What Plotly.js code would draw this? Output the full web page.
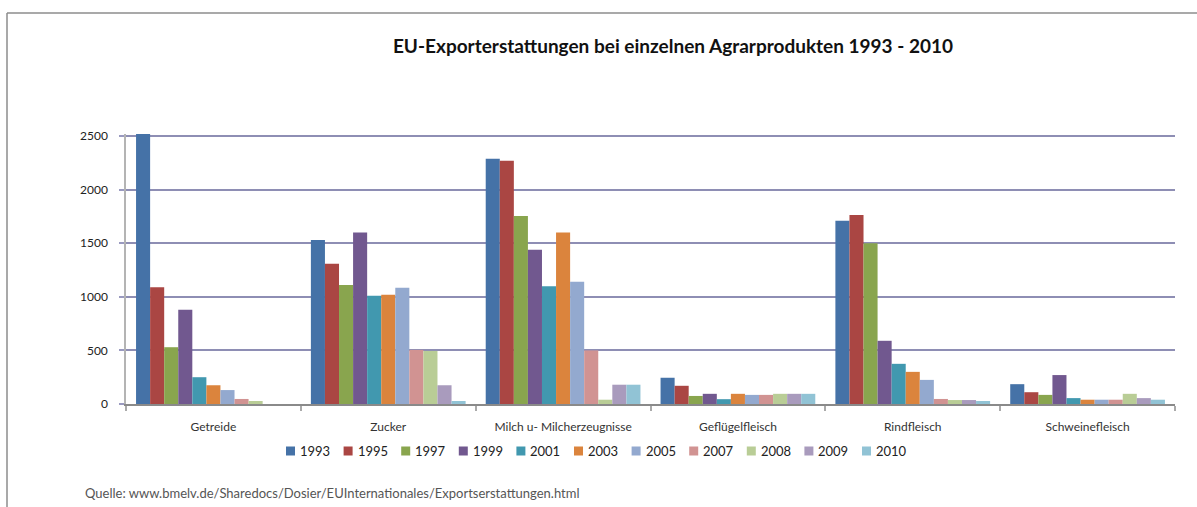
<!DOCTYPE html>
<html>
<head>
<meta charset="utf-8">
<script src="https://cdn.plot.ly/plotly-3.0.1.min.js"></script>
<style>
  html, body { margin: 0; padding: 0; background: #fff; }
  #chart { width: 1197px; height: 507px; }
</style>
</head>
<body>
<div id="chart"></div>
<script>
// Categories (products)
const categories = ["Getreide", "Zucker", "Milch u- Milcherzeugnisse", "Geflügelfleisch", "Rindfleisch", "Schweinefleisch"];
// Series (years)
const years = ["1993", "1995", "1997", "1999", "2001", "2003", "2005", "2007", "2008", "2009", "2010"];
// Values per year, in category order (Mio. EUR)
const v1993 = [2520, 1530, 2290, 245, 1710, 185];
const v1995 = [1090, 1310, 2270, 170, 1765, 110];
const v1997 = [530, 1110, 1755, 75, 1500, 85];
const v1999 = [880, 1600, 1440, 95, 590, 270];
const v2001 = [250, 1010, 1100, 45, 375, 55];
const v2003 = [175, 1020, 1600, 95, 300, 40];
const v2005 = [130, 1085, 1140, 85, 225, 40];
const v2007 = [47, 505, 500, 85, 47, 40];
const v2008 = [28, 495, 40, 95, 37, 95];
const v2009 = [0, 175, 180, 95, 37, 55];
const v2010 = [0, 28, 180, 95, 28, 40];
const seriesValues = [v1993, v1995, v1997, v1999, v2001, v2003, v2005, v2007, v2008, v2009, v2010];
const colors = ["#4572A7", "#AA4643", "#89A54E", "#71588F", "#4198AF", "#DB843D", "#93A9CF", "#D19392", "#B9CD96", "#A99BBD", "#91C3D5"];
const yTicks = [0, 500, 1000, 1500, 2000, 2500];

const titleText = "EU-Exporterstattungen bei einzelnen Agrarprodukten 1993 - 2010";
const sourceText = "Quelle: www.bmelv.de/Sharedocs/Dosier/EUInternationales/Exportserstattungen.html";

// Plot-area geometry (pixels) used for paper-coordinate conversions of decorations
const W = 1197, H = 507;
const M = { l: 126, r: 22, t: 134, b: 103 };
const plotW = W - M.l - M.r, plotH = H - M.t - M.b;
const px = (x) => (x - M.l) / plotW;            // pixel x -> paper x
const py = (y) => (H - M.b - y) / plotH;        // pixel y -> paper y

const traces = years.map((yr, i) => ({
  type: "bar",
  name: yr,
  x: categories,
  y: seriesValues[i],
  marker: { color: colors[i], line: { width: 0 } },
  hoverinfo: "x+y+name",
  showlegend: false
}));

// Legend built as a row of colour squares + labels (Excel-style compact legend)
const legStart = 286, legStep = 57.6, legY = 451, sq = 9;
const legendShapes = years.map((yr, i) => ({
  type: "rect", xref: "paper", yref: "paper",
  x0: px(legStart + i * legStep), x1: px(legStart + i * legStep + sq),
  y0: py(legY - sq / 2), y1: py(legY + sq / 2),
  fillcolor: colors[i], line: { width: 0 }
}));
const legendLabels = years.map((yr, i) => ({
  text: yr, xref: "paper", yref: "paper",
  x: px(legStart + i * legStep + sq + 3), xanchor: "left",
  y: py(legY), yanchor: "middle",
  showarrow: false,
  font: { size: 13, color: "#222", family: "Lato, 'Open Sans', sans-serif" }
}));

const layout = {
  width: W,
  height: H,
  margin: M,
  paper_bgcolor: "#ffffff",
  plot_bgcolor: "#ffffff",
  font: { family: "Lato, 'Open Sans', sans-serif", color: "#222" },
  barmode: "group",
  bargap: 0.115,
  bargroupgap: 0,
  showlegend: false,
  title: {
    text: "<b>" + titleText + "</b>",
    font: { family: "Lato, 'Open Sans', sans-serif", size: 19, color: "#111" },
    x: 673 / W, xanchor: "center", xref: "container",
    y: 1 - 46 / H, yanchor: "middle", yref: "container"
  },
  xaxis: {
    type: "category",
    showline: true, linecolor: "#8a8a8a", linewidth: 1.5,
    ticks: "outside", tickson: "boundaries", ticklen: 5, tickcolor: "#aaaaaa", tickwidth: 1.5,
    tickfont: { size: 12, color: "#333" },
    ticklabelstandoff: 11,
    showgrid: false, zeroline: false,
    fixedrange: true
  },
  yaxis: {
    range: [0, 2520],
    tickvals: yTicks,
    showline: true, linecolor: "#b4b4b4", linewidth: 1.5,
    ticks: "outside", ticklen: 5, tickcolor: "#9a9ac0", tickwidth: 1.5,
    tickfont: { size: 12, color: "#222" },
    ticklabelstandoff: 9,
    showgrid: true, gridcolor: "#8e8eb4", gridwidth: 1.5,
    zeroline: false,
    fixedrange: true
  },
  shapes: [
    { type: "line", xref: "paper", yref: "paper",
      x0: px(7), x1: px(W), y0: py(13), y1: py(13),
      line: { color: "#8c8c8c", width: 1.5 } },
    { type: "line", xref: "paper", yref: "paper",
      x0: px(7), x1: px(7), y0: py(13), y1: py(H + 3),
      line: { color: "#8c8c8c", width: 1.5 } }
  ].concat(legendShapes),
  annotations: [
    { text: sourceText, xref: "paper", yref: "paper",
      x: px(83), xanchor: "left",
      y: py(493), yanchor: "middle",
      showarrow: false,
      font: { size: 13, color: "#555", family: "Lato, 'Open Sans', sans-serif" } }
  ].concat(legendLabels)
};

Plotly.newPlot("chart", traces, layout, { displayModeBar: false, responsive: false });
</script>
</body>
</html>
